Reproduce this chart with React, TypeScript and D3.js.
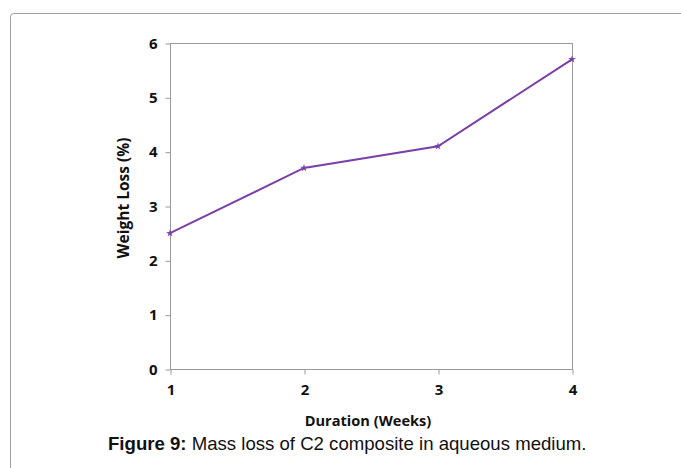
import { useEffect, useRef } from 'react'
import * as d3 from 'd3'

const WEEKS = [1, 2, 3, 4]
const WEIGHT_LOSS = [2.5, 3.7, 4.1, 5.7]
const Y_TICKS = [0, 1, 2, 3, 4, 5, 6]

const W = 681
const H = 468
const PLOT = { left: 170, right: 572, top: 43, bottom: 369 }
const LINE_COLOR = '#7B3FA8'
const AXIS_COLOR = '#9a9a9a'
const LABEL_FONT = '"Open Sans", sans-serif'

export default function App() {
  const svgRef = useRef<SVGSVGElement>(null)

  useEffect(() => {
    const svg = d3.select(svgRef.current)
    svg.selectAll('*').remove()

    // outer frame (only top-left corner visible)
    svg.append('rect')
      .attr('x', 10.5).attr('y', 13.5).attr('width', 800).attr('height', 600).attr('rx', 3)
      .attr('fill', 'none').attr('stroke', '#a0a0a0').attr('stroke-width', 1)

    const x = d3.scaleLinear([1, 4], [PLOT.left, PLOT.right])
    const y = d3.scaleLinear([0, 6], [PLOT.bottom, PLOT.top])

    // plot box
    svg.append('rect')
      .attr('x', PLOT.left + 0.5).attr('y', PLOT.top + 0.5)
      .attr('width', PLOT.right - PLOT.left).attr('height', PLOT.bottom - PLOT.top)
      .attr('fill', 'none').attr('stroke', AXIS_COLOR)

    // y axis
    svg.append('g')
      .attr('transform', `translate(${PLOT.left + 0.5},0.5)`)
      .call(d3.axisLeft(y).tickValues(Y_TICKS).tickSize(5).tickPadding(8).tickFormat(d3.format('d')))
      .call(ag => ag.select('.domain').remove())
      .call(ag => ag.selectAll('.tick line').attr('stroke', AXIS_COLOR))
      .call(ag => ag.selectAll('text')
        .attr('fill', '#111').attr('font-size', 15).attr('font-weight', 'bold')
        .attr('font-family', LABEL_FONT))

    // x axis
    svg.append('g')
      .attr('transform', `translate(0.5,${PLOT.bottom + 0.5})`)
      .call(d3.axisBottom(x).tickValues(WEEKS).tickSize(5).tickPadding(10).tickFormat(d3.format('d')))
      .call(ag => ag.select('.domain').remove())
      .call(ag => ag.selectAll('.tick line').attr('stroke', AXIS_COLOR))
      .call(ag => ag.selectAll('text')
        .attr('fill', '#111').attr('font-size', 15).attr('font-weight', 'bold')
        .attr('font-family', LABEL_FONT))

    // axis titles
    svg.append('text')
      .attr('transform', `translate(129,198) rotate(-90)`)
      .attr('text-anchor', 'middle').attr('font-size', 15.5).attr('font-weight', 'bold')
      .attr('font-family', LABEL_FONT).attr('fill', '#111')
      .text('Weight Loss (%)')

    svg.append('text')
      .attr('x', 368).attr('y', 426)
      .attr('text-anchor', 'middle').attr('font-size', 14.6).attr('font-weight', 'bold')
      .attr('font-family', LABEL_FONT).attr('fill', '#111')
      .text('Duration (Weeks)')

    // series line
    const pts = WEEKS.map((w, i) => [w, WEIGHT_LOSS[i]] as [number, number])
    svg.append('path')
      .datum(pts)
      .attr('d', d3.line<[number, number]>().x(d => x(d[0])).y(d => y(d[1])))
      .attr('fill', 'none').attr('stroke', LINE_COLOR).attr('stroke-width', 2)

    // small star markers
    svg.append('g').selectAll('path')
      .data(pts)
      .join('path')
      .attr('transform', d => `translate(${x(d[0])},${y(d[1])})`)
      .attr('d', d3.symbol(d3.symbolStar, 18)())
      .attr('fill', LINE_COLOR)

    // caption
    const cap = svg.append('text')
      .attr('x', 108).attr('y', 450)
      .attr('font-size', 18.6).attr('font-family', 'Arial, "Liberation Sans", sans-serif').attr('fill', '#111')
    cap.append('tspan').attr('font-weight', 'bold').text('Figure 9:')
    cap.append('tspan').text(' Mass loss of C2 composite in aqueous medium.')
  }, [])

  return (
    <svg ref={svgRef} width={W} height={H}
      style={{ position: 'absolute', left: 0, top: 0, background: '#fff' }} />
  )
}
